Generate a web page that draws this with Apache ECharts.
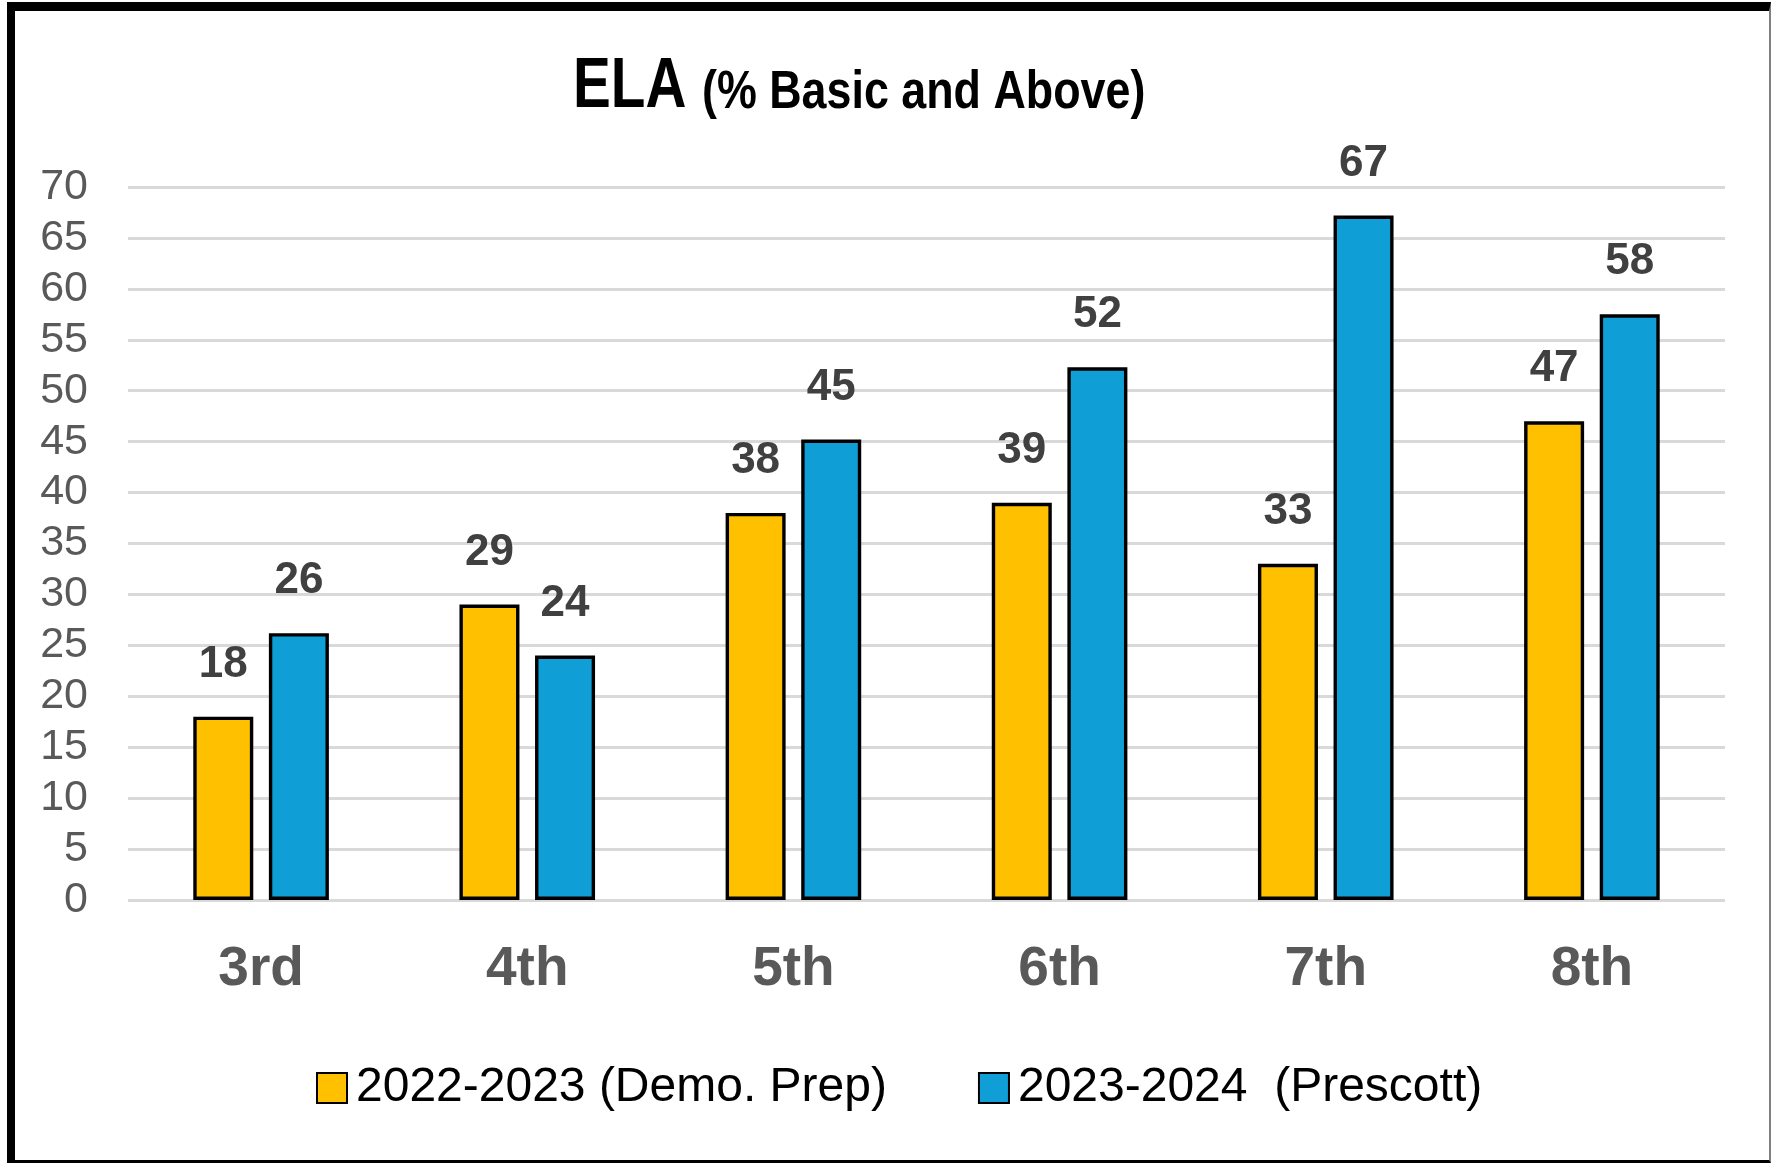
<!DOCTYPE html>
<html>
<head>
<meta charset="utf-8">
<title>ELA (% Basic and Above)</title>
<script src="https://cdn.jsdelivr.net/npm/echarts@6/dist/echarts.min.js"></script>
<style>
  html, body { margin: 0; padding: 0; background: #fff; }
  #chart { position: absolute; left: 0; top: 0; width: 1775px; height: 1163px; }
  /* 外框 */
  .frame {
    position: absolute; left: 7px; top: 2px; width: 1764px; height: 1161px;
    box-sizing: border-box; pointer-events: none;
    border-left: 8px solid #000; border-top: 9px solid #000;
    border-right: 2px solid #808080; border-bottom: 3px solid #000;
  }
</style>
</head>
<body>
<div id="chart"></div>
<div class="frame"></div>
<script>
// 数据
const grades = ['3rd', '4th', '5th', '6th', '7th', '8th'];
const demoPrep = [18, 29, 38, 39, 33, 47];        // 2022-2023 (Demo. Prep)
const prescott = [26.2, 24, 45.2, 52.3, 67.2, 57.5]; // 2023-2024 (Prescott)
const seriesNames = ['2022-2023 (Demo. Prep)', '2023-2024  (Prescott)'];
const yTicks = { min: 0, max: 70, step: 5 };

const colors = ['#FFC000', '#0F9ED5'];
const fontFamily = '"Liberation Sans", Arial, sans-serif';

const chart = echarts.init(document.getElementById('chart'), null, { renderer: 'canvas' });

const barLabel = {
  show: true,
  position: 'top',
  distance: 30,
  fontFamily: fontFamily,
  fontSize: 44,
  fontWeight: 'bold',
  color: '#404040',
  formatter: p => Math.round(p.value)
};

const option = {
  backgroundColor: '#fff',
  animation: false,
  textStyle: { fontFamily: fontFamily },
  graphic: [
    {
      type: 'text',
      x: 573, y: 88, scaleX: 0.81,
      style: {
        text: 'ELA', font: 'bold 70px ' + fontFamily,
        fill: '#000', align: 'left', verticalAlign: 'middle'
      }
    },
    {
      type: 'text',
      x: 702, y: 93, scaleX: 0.83,
      style: {
        text: '(% Basic and Above)', font: 'bold 54px ' + fontFamily,
        fill: '#000', align: 'left', verticalAlign: 'middle'
      }
    }
  ],
  legend: {
    data: seriesNames,
    left: 316,
    top: 1064,
    padding: 0,
    icon: 'rect',
    itemWidth: 30,
    itemHeight: 30,
    itemGap: 91,
    textStyle: { fontFamily: fontFamily, fontSize: 48, color: '#000', padding: [0, 0, 0, 4] }
  },
  grid: { left: 128, right: 50, top: 187, bottom: 263 },
  xAxis: {
    type: 'category',
    data: grades,
    axisLine: { show: false },
    axisTick: { show: false },
    axisLabel: {
      margin: 42,
      fontFamily: fontFamily,
      fontSize: 55,
      fontWeight: 'bold',
      color: '#595959'
    }
  },
  yAxis: {
    type: 'value',
    min: yTicks.min,
    max: yTicks.max,
    interval: yTicks.step,
    axisLine: { show: false },
    axisTick: { show: false },
    splitLine: { lineStyle: { color: '#d9d9d9', width: 3 } },
    axisLabel: {
      margin: 40,
      fontFamily: fontFamily,
      fontSize: 43,
      color: '#595959'
    }
  },
  series: [
    {
      name: seriesNames[0],
      type: 'bar',
      data: demoPrep,
      barWidth: 60,
      barGap: '26%',
      itemStyle: { color: colors[0], borderColor: '#000', borderWidth: 3.4 },
      label: barLabel
    },
    {
      name: seriesNames[1],
      type: 'bar',
      data: prescott,
      barWidth: 60,
      barGap: '26%',
      itemStyle: { color: colors[1], borderColor: '#000', borderWidth: 3.4 },
      label: barLabel
    }
  ]
};

option && chart.setOption(option);
</script>
</body>
</html>
